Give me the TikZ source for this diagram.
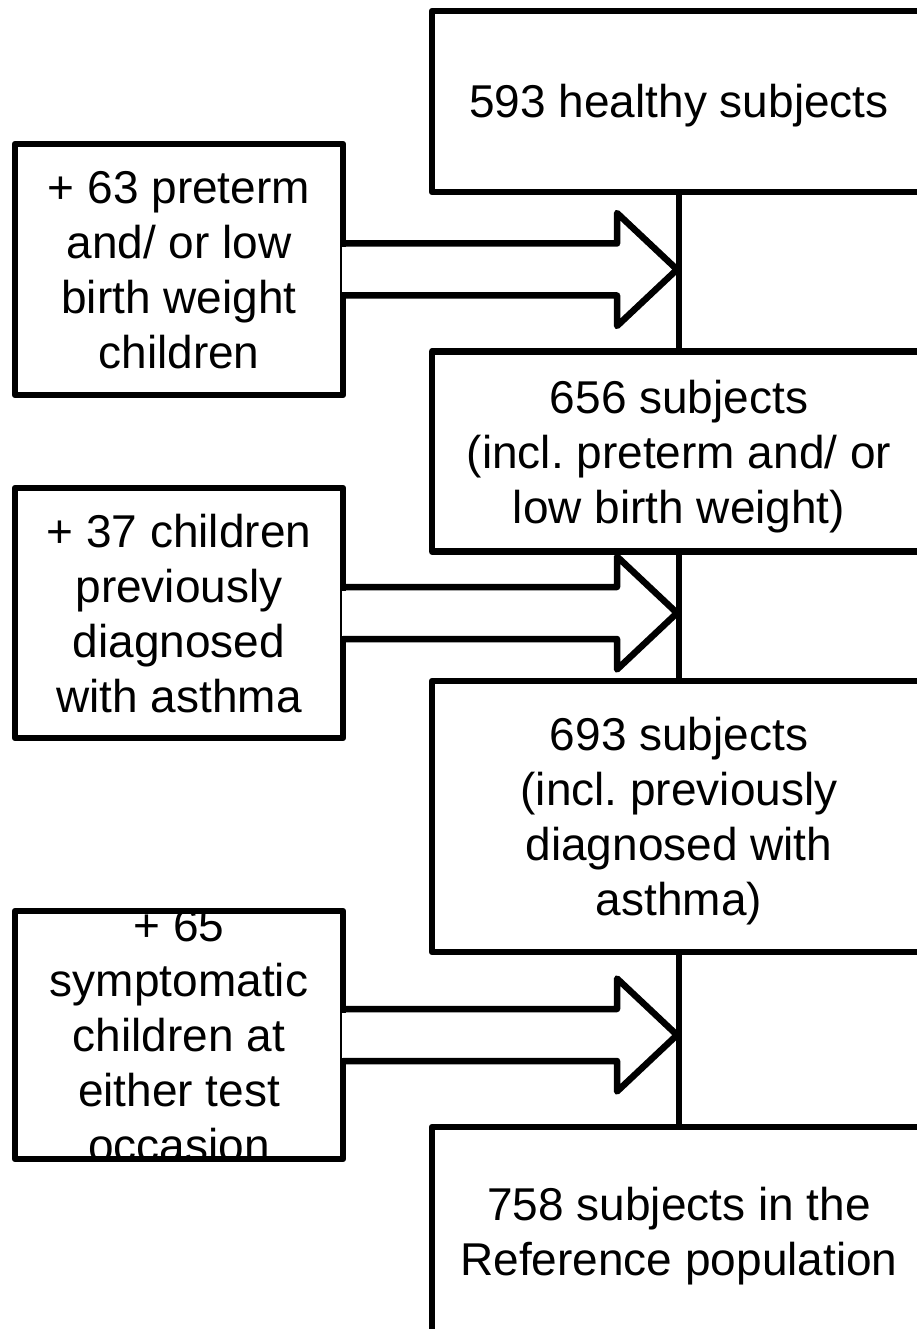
\documentclass[tikz,border=0pt]{standalone}
\usepackage{fontspec}
\setmainfont{Liberation Sans}
\usetikzlibrary{calc}
\frenchspacing
\newcommand{\mystrut}{\rule[-11pt]{0pt}{55pt}}
\tikzset{
  boxfont/.style={font=\fontsize{46}{55}\selectfont},
  lbox/.style={draw, line width=6.5pt, line join=round, minimum width=328pt, inner sep=0pt, align=center, boxfont},
  rbox/.style={draw, line width=6.5pt, line join=round, minimum width=494pt, inner sep=0pt, align=center, boxfont},
  txt/.style={inner sep=0pt, align=center, boxfont},
  link/.style={line width=6.5pt},
  blockarrow/.style={line width=6.5pt, line join=round},
}
\begin{document}
\begin{tikzpicture}[x=1pt,y=-1pt]
\fill[white] (0,0) rectangle (917,1329);
\useasboundingbox (0,0) rectangle (917,1329);

% right column
\node[rbox, minimum height=181pt] (b1) at (679,101.5) {\mystrut 593 healthy subjects\mystrut};
\node[rbox, minimum height=200pt] (b2) at (679,451.5) {\mystrut 656 subjects\\(incl.\ preterm and/ or\\low birth weight)\mystrut};
\node[rbox, minimum height=271pt] (b3) at (679,816.5) {\mystrut 693 subjects\\(incl.\ previously\\diagnosed with\\asthma)\mystrut};
\node[rbox, minimum height=208pt] (b4) at (679,1231) {\mystrut 758 subjects in the\\Reference population\mystrut};

\draw[link] (b1.south) -- (b2.north);
\draw[link] (b2.south) -- (b3.north);
\draw[link] (b3.south) -- (b4.north);

% left column
\node[lbox, minimum height=251pt] (a) at (179,269.5) {\mystrut + 63 preterm\\and/ or low\\birth weight\\children\mystrut};
\node[lbox, minimum height=250pt] (b) at (179,613) {\mystrut + 37 children\\previously\\diagnosed\\with asthma\mystrut};
\node[lbox, minimum height=248pt] (c) at (179,1035) {};
\begin{scope}
  \clip ([shift={(3.25,-3.25)}]c.south west) rectangle ([shift={(-3.25,3.25)}]c.north east);
  \node[txt] (ctext) at (c.center) {\mystrut + 65\\symptomatic\\children at\\either test\\occasion\mystrut};
\end{scope}

% tips on the vertical line
\coordinate (t1) at (b1.center |- a.center);
\coordinate (t2) at (b1.center |- b.center);
\coordinate (t3) at (b1.center |- c.center);

% block arrows
\foreach \src/\tip in {a/t1, b/t2, c/t3}{
  \fill[white] ([shift={(-4,-22.5)}]\src.east) rectangle ([shift={(4,22.5)}]\src.east);
  \draw[blockarrow] ([shift={(-3.25,-26)}]\src.east) -| ([shift={(-62,-56.5)}]\tip)
     -- ([xshift=-2pt]\tip) -- ([shift={(-62,56.5)}]\tip) |- ([shift={(-3.25,26)}]\src.east);
}
\end{tikzpicture}
\end{document}
